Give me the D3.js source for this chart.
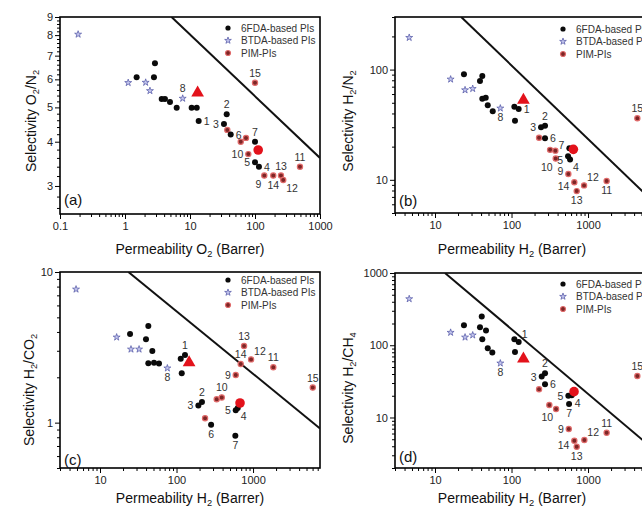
<!DOCTYPE html>
<html>
<head>
<meta charset="utf-8">
<script src="https://cdn.jsdelivr.net/npm/d3@7"></script>
<style>
body { margin: 0; background: #fff; }
svg { font-family: Arial, "Liberation Sans", sans-serif; }
</style>
</head>
<body>
<svg id="chart" width="642" height="509"></svg>
<script>
// ---- panel (a): O2/N2 ----
var aFdaX = [1.51, 2.89, 2.79, 3.67, 4.12, 4.92, 6.24, 10.6, 12.7, 13.6, 36.7, 33.3, 42.3, 100, 100, 115];
var aFdaY = [6.08, 6.66, 6.08, 5.28, 5.28, 5.18, 4.99, 4.99, 4.99, 4.58, 4.78, 4.49, 4.19, 4.0, 3.50, 3.40];
var aFdaLab = ["", "", "", "", "", "", "", "", "", "1", "2", "3", "6", "7", "5", "4"];
var aFdaPos = ["", "", "", "", "", "", "", "", "", "r", "t", "l", "r", "t", "l", "r"];
var aBtX = [0.19, 1.12, 2.08, 2.42, 7.72];
var aBtY = [8.04, 5.87, 5.88, 5.57, 5.30];
var aBtLab = ["", "", "", "", "8"];
var aBtPos = ["", "", "", "", "t"];
var aPimX = [37.5, 60.3, 72.7, 78.9, 139, 191, 251, 272, 492, 100];
var aPimY = [4.32, 4.0, 4.10, 3.69, 3.21, 3.21, 3.21, 3.12, 3.40, 5.87];
var aPimLab = ["", "", "", "10", "9", "14", "13", "12", "11", "15"];
var aPimPos = ["", "", "", "l", "bl", "b", "t", "br", "t", "t"];
var aTri = [13.1, 5.50];
var aCirc = [112, 3.79];
var aBound = [[5.2, 9], [1000, 3.6]];

// ---- panel (b): H2/N2 ----
var bFdaX = [23.9, 38.7, 41.5, 41.5, 46, 48.9, 56.8, 108.9, 111, 124, 274, 243, 274, 570, 548, 582];
var bFdaY = [90.7, 78.9, 87.5, 54.5, 55.6, 47.5, 41.9, 46.1, 34.4, 43.9, 31.0, 30.0, 23.8, 19.3, 16.4, 15.3];
var bFdaLab = ["", "", "", "", "", "", "", "", "", "1", "2", "3", "6", "7", "5", "4"];
var bFdaPos = ["", "", "", "", "", "", "", "", "", "r", "t", "l", "r", "lt", "lb", "br"];
var bBtX = [4.6, 16.0, 24.7, 31.1, 71.4];
var bBtY = [195, 81.7, 65.3, 67.1, 44.6];
var bBtLab = ["", "", "", "", "8"];
var bBtPos = ["", "", "", "", "b"];
var bPimX = [229, 319, 374, 378, 553, 662, 711, 887, 1750, 4410];
var bPimY = [24.1, 18.7, 18.4, 15.6, 11.3, 9.5, 7.9, 8.9, 9.75, 36.2];
var bPimLab = ["", "", "", "10", "9", "14", "13", "12", "11", "15"];
var bPimPos = ["", "", "", "bl", "lt", "lb", "b", "tr", "b", "t"];
var bTri = [143, 53.0];
var bCirc = [643, 18.9];
var bBound = [[22, 300], [7500, 6.1]];

// ---- panel (c): H2/CO2 ----
var cFdaX = [24.7, 42.8, 39.9, 48.3, 42.8, 50.8, 59.0, 113.5, 117, 129, 215, 193, 283, 587, 594, 631];
var cFdaY = [3.88, 4.38, 3.58, 2.99, 2.48, 2.50, 2.47, 2.66, 2.13, 2.81, 1.37, 1.30, 0.97, 0.82, 1.21, 1.25];
var cFdaLab = ["", "", "", "", "", "", "", "", "", "1", "2", "3", "6", "7", "5", "4"];
var cFdaPos = ["", "", "", "", "", "", "", "", "", "t", "t", "l", "b", "b", "l", "br"];
var cBtX = [4.86, 16.5, 25.4, 32.4, 75.9];
var cBtY = [7.68, 3.69, 3.07, 3.07, 2.30];
var cBtLab = ["", "", "", "", "8"];
var cBtPos = ["", "", "", "", "b"];
var cPimX = [236, 335, 390, 594, 690, 763, 942, 1840, 6030];
var cPimY = [1.07, 1.43, 1.47, 2.07, 2.45, 3.23, 2.63, 2.33, 1.71];
var cPimLab = ["", "", "10", "9", "14", "13", "12", "11", "15"];
var cPimPos = ["", "", "t", "l", "t", "t", "tr", "t", "t"];
var cTri = [146, 2.50];
var cCirc = [676, 1.35];
var cBound = [[23.5, 10], [7500, 0.915]];

// ---- panel (d): H2/CH4 ----
var dFdaX = [23.9, 40.8, 38.7, 46.4, 41.5, 48.9, 56.1, 108.9, 111, 124, 274, 248, 274, 565, 553, 612];
var dFdaY = [189, 249, 178, 160, 121, 91, 79.1, 121, 80.9, 111, 40.9, 36.8, 28.8, 15.4, 20.0, 20.3];
var dFdaLab = ["", "", "", "", "", "", "", "", "", "1", "2", "3", "6", "7", "5", "4"];
var dFdaPos = ["", "", "", "", "", "", "", "", "", "tr", "t", "l", "r", "b", "l", "br"];
var dBtX = [4.6, 16.0, 24.7, 31.1, 71.4];
var dBtY = [438, 150, 129, 138, 56.4];
var dBtLab = ["", "", "", "", "8"];
var dBtPos = ["", "", "", "", "b"];
var dPimX = [229, 312, 382, 560, 662, 711, 895, 1750, 4410];
var dPimY = [24.6, 14.9, 13.1, 6.93, 4.78, 3.94, 4.89, 6.16, 37.6];
var dPimLab = ["", "", "10", "9", "14", "13", "12", "11", "15"];
var dPimPos = ["", "", "bl", "l", "lb", "b", "tr", "t", "t"];
var dTri = [143, 64.7];
var dCirc = [656, 22.8];
var dBound = [[13.5, 1000], [7500, 3.5]];

var legendNames = ["6FDA-based PIs", "BTDA-based PIs", "PIM-PIs"];

var svg = d3.select("#chart");

function series(xs, ys, labs, pos) {
    return xs.map(function (d, i) {
        return {x: d, y: ys[i], lab: labs[i], pos: pos[i]};
    });
}

function logMinor(dom) {
    var out = [];
    for (var e = -2; e <= 4; e++) {
        for (var k = 2; k <= 9; k++) {
            var v = k * Math.pow(10, e);
            if (v >= dom[0] && v <= dom[1]) out.push(v);
        }
    }
    return out;
}

var panels = [
    {id: "a", left: 60, top: 17, w: 260, h: 197, xDom: [0.1, 1000], yDom: [2.5, 9],
     xTicks: [0.1, 1, 10, 100, 1000], yTicks: [3, 4, 5, 6, 7, 8, 9],
     yMinor: d3.range(2.6, 9, 0.2).filter(function (v) { return Math.abs(v - Math.round(v)) > 0.01; }),
     xTitle: [["Permeability O", 0], ["2", 1], [" (Barrer)", 0]],
     yTitle: [["Selectivity O", 0], ["2", 1], ["/N", 0], ["2", 1]],
     xTitleY: 254, yTitleX: 36, yTitleC: 121, tagY: 205, legY: 28,
     fda: series(aFdaX, aFdaY, aFdaLab, aFdaPos), bt: series(aBtX, aBtY, aBtLab, aBtPos),
     pim: series(aPimX, aPimY, aPimLab, aPimPos), tri: aTri, circ: aCirc, bound: aBound},
    {id: "b", left: 395, top: 17, w: 260, h: 196, xDom: [3, 7500], yDom: [5, 300],
     xTicks: [10, 100, 1000], yTicks: [10, 100], yMinor: null,
     xTitle: [["Permeability H", 0], ["2", 1], [" (Barrer)", 0]],
     yTitle: [["Selectivity H", 0], ["2", 1], ["/N", 0], ["2", 1]],
     xTitleY: 254, yTitleX: 353, yTitleC: 121, tagY: 206, legY: 29,
     fda: series(bFdaX, bFdaY, bFdaLab, bFdaPos), bt: series(bBtX, bBtY, bBtLab, bBtPos),
     pim: series(bPimX, bPimY, bPimLab, bPimPos), tri: bTri, circ: bCirc, bound: bBound},
    {id: "c", left: 60, top: 272, w: 260, h: 196, xDom: [3, 7500], yDom: [0.5, 10],
     xTicks: [10, 100, 1000], yTicks: [1, 10], yMinor: null,
     xTitle: [["Permeability H", 0], ["2", 1], [" (Barrer)", 0]],
     yTitle: [["Selectivity H", 0], ["2", 1], ["/CO", 0], ["2", 1]],
     xTitleY: 503, yTitleX: 34, yTitleC: 390, tagY: 465, legY: 280,
     fda: series(cFdaX, cFdaY, cFdaLab, cFdaPos), bt: series(cBtX, cBtY, cBtLab, cBtPos),
     pim: series(cPimX, cPimY, cPimLab, cPimPos), tri: cTri, circ: cCirc, bound: cBound},
    {id: "d", left: 395, top: 273, w: 260, h: 195, xDom: [3, 7500], yDom: [2, 1000],
     xTicks: [10, 100, 1000], yTicks: [10, 100, 1000], yMinor: null,
     xTitle: [["Permeability H", 0], ["2", 1], [" (Barrer)", 0]],
     yTitle: [["Selectivity H", 0], ["2", 1], ["/CH", 0], ["4", 1]],
     xTitleY: 503, yTitleX: 353, yTitleC: 388, tagY: 462, legY: 284,
     fda: series(dFdaX, dFdaY, dFdaLab, dFdaPos), bt: series(dBtX, dBtY, dBtLab, dBtPos),
     pim: series(dPimX, dPimY, dPimLab, dPimPos), tri: dTri, circ: dCirc, bound: dBound}
];

function richText(sel, parts, size) {
    var sub = false;
    parts.forEach(function (pt) {
        var t = sel.append("tspan").text(pt[0]);
        if (pt[1] && !sub) { t.attr("dy", 3).attr("font-size", size * 0.66); sub = true; }
        else if (!pt[1] && sub) { t.attr("dy", -3); sub = false; }
    });
}

// label placement around a point: dx, dy, anchor
var labOff = {
    r: [5, 4, "start"], l: [-5, 4, "end"], t: [0, -6, "middle"], b: [0, 13, "middle"],
    tr: [3, -4, "start"], bl: [-3, 12, "end"], br: [3, 12, "start"],
    lt: [-5, 1, "end"], lb: [-5, 8, "end"]
};

function styleAxis(g) {
    g.attr("font-family", null).attr("font-size", 11);
    g.selectAll("text").attr("fill", "#222");
    g.selectAll("line").attr("stroke", "#000").attr("stroke-width", 1);
    g.select(".domain").remove();
}

function pimSym(sel) {
    sel.attr("fill", "#7d2626").attr("stroke", "#e06a6a").attr("stroke-width", 1.2);
}

function starSym(sel) {
    sel.attr("fill", "#c3c5ee").attr("stroke", "#4f53a3").attr("stroke-width", 0.7);
}

function drawPanel(p) {
    var x = d3.scaleLog().domain(p.xDom).range([p.left, p.left + p.w]);
    var y = d3.scaleLog().domain(p.yDom).range([p.top + p.h, p.top]);
    var g = svg.append("g");

    g.append("clipPath").attr("id", "clip" + p.id)
        .append("rect").attr("x", p.left).attr("y", p.top).attr("width", p.w).attr("height", p.h);

    var bottom = p.top + p.h;
    // x axis
    g.append("g").attr("transform", "translate(0," + bottom + ")")
        .call(d3.axisBottom(x).tickValues(p.xTicks).tickFormat(function (d) { return String(d); })
            .tickSize(5).tickSizeOuter(0).tickPadding(3))
        .call(styleAxis);
    g.append("g").attr("transform", "translate(0," + bottom + ")")
        .call(d3.axisBottom(x).tickValues(logMinor(p.xDom)).tickFormat("").tickSize(3).tickSizeOuter(0))
        .call(styleAxis);
    // y axis
    g.append("g").attr("transform", "translate(" + p.left + ",0)")
        .call(d3.axisLeft(y).tickValues(p.yTicks).tickFormat(function (d) { return String(d); })
            .tickSize(5).tickSizeOuter(0).tickPadding(2))
        .call(styleAxis);
    g.append("g").attr("transform", "translate(" + p.left + ",0)")
        .call(d3.axisLeft(y).tickValues(p.yMinor || logMinor(p.yDom)).tickFormat("").tickSize(3).tickSizeOuter(0))
        .call(styleAxis);

    // frame
    g.append("rect").attr("x", p.left).attr("y", p.top).attr("width", p.w).attr("height", p.h)
        .attr("fill", "none").attr("stroke", "#000").attr("stroke-width", 1.6);

    // upper bound
    g.append("path").datum(p.bound)
        .attr("clip-path", "url(#clip" + p.id + ")")
        .attr("fill", "none").attr("stroke", "#111").attr("stroke-width", 2)
        .attr("d", d3.line().x(function (d) { return x(d[0]); }).y(function (d) { return y(d[1]); }));

    // points
    g.selectAll(".pim").data(p.pim).enter().append("circle")
        .attr("cx", function (d) { return x(d.x); }).attr("cy", function (d) { return y(d.y); })
        .attr("r", 2.6).call(pimSym);
    g.selectAll(".bt").data(p.bt).enter().append("path")
        .attr("transform", function (d) { return "translate(" + x(d.x) + "," + y(d.y) + ")"; })
        .attr("d", d3.symbol(d3.symbolStar, 15))
        .call(starSym);
    g.selectAll(".fda").data(p.fda).enter().append("circle")
        .attr("cx", function (d) { return x(d.x); }).attr("cy", function (d) { return y(d.y); })
        .attr("r", 3).attr("fill", "#0a0a0a");
    g.append("path")
        .attr("transform", "translate(" + x(p.tri[0]) + "," + y(p.tri[1]) + ")")
        .attr("d", d3.symbol(d3.symbolTriangle, 70)).attr("fill", "#e3121b");
    g.append("circle").attr("cx", x(p.circ[0])).attr("cy", y(p.circ[1])).attr("r", 4.8).attr("fill", "#e3121b");

    // numeric labels
    var labs = p.fda.concat(p.bt, p.pim).filter(function (d) { return d.lab; });
    g.selectAll(".lab").data(labs).enter().append("text")
        .attr("x", function (d) { return x(d.x) + labOff[d.pos][0]; })
        .attr("y", function (d) { return y(d.y) + labOff[d.pos][1]; })
        .attr("text-anchor", function (d) { return labOff[d.pos][2]; })
        .attr("font-size", 10.5).attr("fill", "#333")
        .text(function (d) { return d.lab; });

    // legend
    var lg = g.append("g").attr("transform", "translate(" + (p.left + 168) + "," + p.legY + ")");
    legendNames.forEach(function (name, i) {
        var row = lg.append("g").attr("transform", "translate(0," + (i * 12.5) + ")");
        if (i === 0) row.append("circle").attr("r", 2.6).attr("fill", "#0a0a0a");
        if (i === 1) row.append("path").attr("d", d3.symbol(d3.symbolStar, 14)).call(starSym);
        if (i === 2) row.append("circle").attr("r", 2.5).call(pimSym);
        row.append("text").attr("x", 13).attr("y", 3.5).attr("font-size", 10).attr("fill", "#333").text(name);
    });

    // panel tag
    g.append("text").attr("x", p.left + 4).attr("y", p.tagY).attr("font-size", 15).attr("fill", "#111")
        .text("(" + p.id + ")");

    // axis titles
    var xt = g.append("text").attr("x", p.left + p.w / 2 - (p.id === "b" || p.id === "d" ? 13 : 0))
        .attr("y", p.xTitleY).attr("text-anchor", "middle").attr("font-size", 14).attr("fill", "#111");
    richText(xt, p.xTitle, 14);
    var yt = g.append("text")
        .attr("transform", "translate(" + p.yTitleX + "," + p.yTitleC + ") rotate(-90)")
        .attr("text-anchor", "middle").attr("font-size", 14).attr("fill", "#111");
    richText(yt, p.yTitle, 14);
}

panels.forEach(drawPanel);
</script>
</body>
</html>
